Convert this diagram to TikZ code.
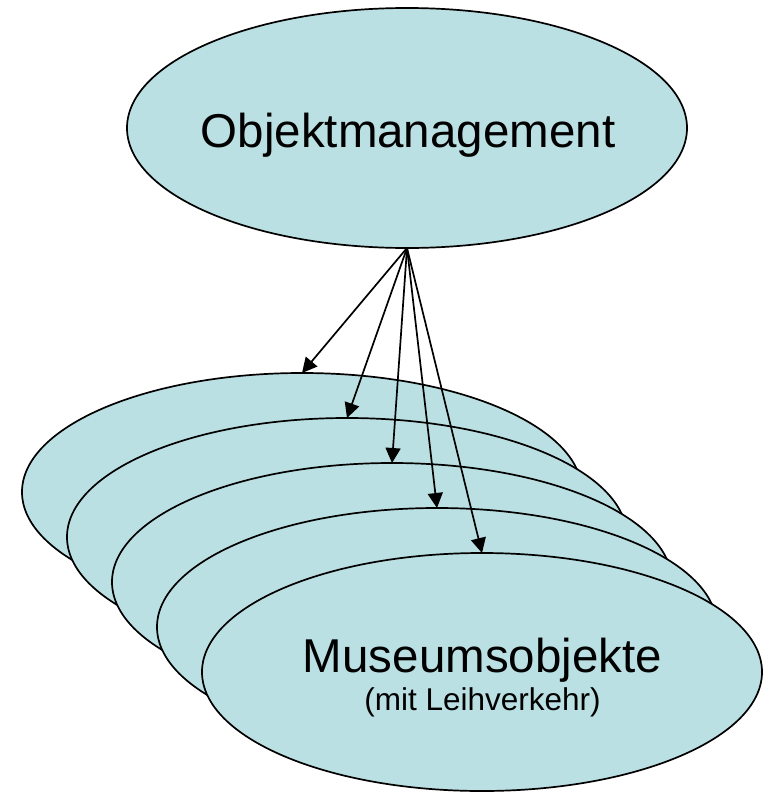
\documentclass[tikz,border=0pt]{standalone}
\usepackage{fontspec}
\setmainfont{Liberation Sans}
\usetikzlibrary{arrows.meta,shapes.geometric}
\definecolor{pale}{RGB}{187,224,227}
\tikzset{
  oval/.style={ellipse, draw=black, fill=pale, line width=1.7pt,
    minimum width=560pt, minimum height=240pt, inner sep=0pt, outer sep=0pt},
  bigtext/.style={anchor=base, inner sep=0pt, font=\fontsize{47.5}{57}\selectfont},
  smalltext/.style={anchor=base, inner sep=0pt, font=\fontsize{31.5}{38}\selectfont},
  link/.style={line width=1.7pt, -{Triangle[length=15pt,width=15pt]}}
}
\begin{document}
\begin{tikzpicture}[x=1pt,y=-1pt]
\useasboundingbox (0,0) rectangle (768,793);
\node[oval] (top) at (407,128) {};
\node[bigtext] (toplabel) at (408,147) {Objektmanagement};
\node[oval, minimum height=238pt] (e1) at (302,492) {};
\node[oval, minimum height=238pt] (e2) at (347,537) {};
\node[oval, minimum height=238pt] (e3) at (392,582) {};
\node[oval, minimum height=238pt] (e4) at (437,627) {};
\node[oval, minimum height=238pt] (e5) at (482,672) {};
\node[bigtext] (mlabel) at (482.5,672) {Museumsobjekte};
\node[smalltext] (slabel) at (482.5,710) {(mit Leihverkehr)};
\draw[link] (top.south) -- (e1.north);
\draw[link] (top.south) -- (e2.north);
\draw[link] (top.south) -- (e3.north);
\draw[link] (top.south) -- (e4.north);
\draw[link] (top.south) -- (e5.north);
\end{tikzpicture}
\end{document}
